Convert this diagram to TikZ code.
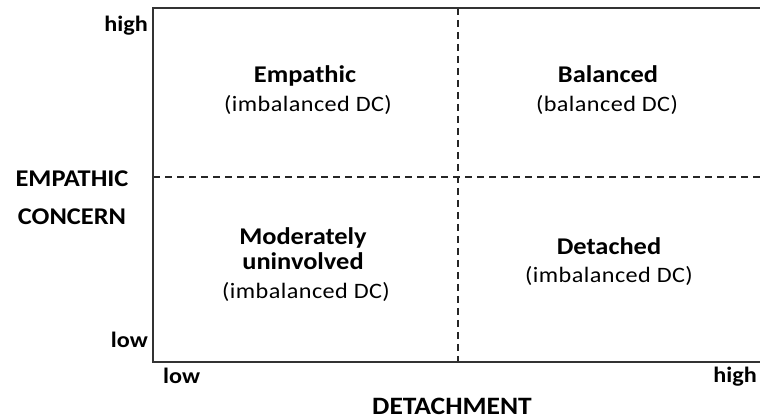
\documentclass[tikz,border=0pt]{standalone}
\usepackage{fontspec}
\setmainfont{Carlito}[FakeStretch=1.1]
\begin{document}
\begin{tikzpicture}[x=1pt,y=-1pt,
  frame/.style={draw=black!80,line width=1.8pt},
  divider/.style={draw=black!85,line width=1.3pt,dash pattern=on 7pt off 5pt},
  axlab/.style={font=\fontsize{24}{28}\selectfont\bfseries,inner sep=0pt,anchor=base},
  smlab/.style={font=\fontsize{22}{26}\selectfont\bfseries,inner sep=0pt},
  qtitle/.style={font=\fontsize{24}{28}\selectfont\bfseries,inner sep=0pt,anchor=base},
  qsub/.style={font=\fontsize{22}{26}\selectfont\addfontfeatures{LetterSpace=2},inner sep=0pt,anchor=base}]
\useasboundingbox (0,0) rectangle (760,419);
\coordinate (tl) at (153,8);
\coordinate (tr) at (760,8);
\coordinate (bl) at (153,362);
\coordinate (br) at (760,362);
\coordinate (vt) at (458,8);
\coordinate (vb) at (458,362);
\coordinate (hl) at (153,177);
\coordinate (hr) at (760,177);
\draw[divider] (vt) -- (vb);
\draw[divider] (hl) -- (hr);
\draw[frame] (tr) -- (tl) -- (bl) -- (br);
% axis labels
\node[smlab,anchor=base east] (yhigh) at (148,32) {high};
\node[smlab,anchor=base east] (ylow) at (148,348) {low};
\node[axlab] (ec1) at (72,187) {EMPATHIC};
\node[axlab] (ec2) at (72,225) {CONCERN};
\node[smlab,anchor=base west] (xlow) at (163,383) {low};
\node[smlab,anchor=base east] (xhigh) at (757,382) {high};
\node[axlab,font=\fontsize{25}{28}\selectfont\bfseries] (xlab) at (452,414) {DETACHMENT};
% quadrants
\node[qtitle] (q1t) at (305,83) {Empathic};
\node[qsub] (q1s) at (308,112) {(imbalanced DC)};
\node[qtitle] (q2t) at (608,83) {Balanced};
\node[qsub] (q2s) at (607,112) {(balanced DC)};
\node[qtitle] (q3a) at (303,245) {Moderately};
\node[qtitle] (q3b) at (303,270) {uninvolved};
\node[qsub] (q3s) at (306,299) {(imbalanced DC)};
\node[qtitle] (q4t) at (609,255) {Detached};
\node[qsub] (q4s) at (609,283) {(imbalanced DC)};
\end{tikzpicture}
\end{document}
